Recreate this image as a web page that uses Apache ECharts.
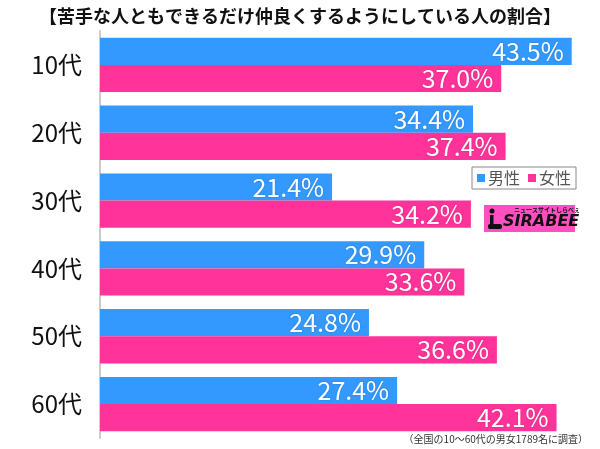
<!DOCTYPE html>
<html><head><meta charset="utf-8">
<script src="https://cdn.jsdelivr.net/npm/echarts@6/dist/echarts.min.js"></script>
<style>html,body{margin:0;padding:0;background:#fff}#c{width:600px;height:449px}</style>
</head><body><div id="c"></div>
<script>
const categories = ['10代','20代','30代','40代','50代','60代'];
const male = [43.5, 34.4, 21.4, 29.9, 24.8, 27.4];
const female = [37.0, 37.4, 34.2, 33.6, 36.6, 42.1];
const seriesNames = ['男性','女性'];
const titleText = '【苦手な人ともできるだけ仲良くするようにしている人の割合】';
const noteText = '（全国の10〜60代の男女1789名に調査）';
const FONT = '"Noto Sans CJK JP", "Noto Sans", sans-serif';

const chart = echarts.init(document.getElementById('c'), null, {renderer:'canvas'});
const lbl = {
  show: true, position: 'insideRight', distance: 8,
  formatter: p => p.value.toFixed(1) + '%',
  color: '#fff', fontSize: 25, fontFamily: FONT,
  textShadowColor: 'rgba(0,0,0,0.2)', textShadowBlur: 2
};
chart.setOption({
  animation: false,
  title: { text: titleText, left: 'center', top: 2,
    textStyle: { fontSize: 18, fontWeight: 'bold', color: '#111', fontFamily: FONT } },
  legend: {
    data: seriesNames, left: 472, top: 167, icon: 'rect', itemWidth: 8, itemHeight: 8, itemGap: 8,
    borderColor: '#888', borderWidth: 1, padding: [3, 5, 3, 5], borderRadius: 0,
    textStyle: { fontSize: 16, color: '#555', fontFamily: FONT, padding: [0,0,0,-2] }
  },
  grid: { left: 100, top: 31, width: 488, height: 407, containLabel: false },
  xAxis: { type: 'value', min: 0, max: 45, show: false },
  yAxis: { type: 'category', data: categories, inverse: true,
    axisLine: { show: true, lineStyle: { color: '#ccc', width: 2 } },
    axisTick: { show: false },
    axisLabel: { fontSize: 24, color: '#111', margin: 18, fontFamily: FONT } },
  series: [
    { name: seriesNames[0], type: 'bar', data: male, barGap: '0%', barCategoryGap: '20%',
      itemStyle: { color: '#3399ff' }, label: lbl },
    { name: seriesNames[1], type: 'bar', data: female,
      itemStyle: { color: '#ff3399' }, label: lbl }
  ],
  graphic: [
    { type: 'text', right: 12, top: 434,
      style: { text: noteText, fill: '#333', font: '10px ' + FONT } },
    { type: 'group', left: 484, top: 205, children: [
      { type: 'rect', shape: { x: 0, y: 0, width: 91, height: 27 }, style: { fill: '#ff4fc0' } },
      { type: 'text', x: 30, y: 2, style: { text: 'ニュースサイトしらべぇ', font: 'bold 6px ' + FONT, fill: '#111' } },
      { type: 'circle', shape: { cx: 8, cy: 6, r: 2.5 }, style: { fill: '#111' } },
      { type: 'rect', shape: { x: 4, y: 19, width: 14, height: 5, r: 2 }, style: { fill: '#111' } },
      { type: 'rect', shape: { x: 6, y: 10, width: 3.5, height: 12 }, style: { fill: '#111' } },
      { type: 'text', x: 19, y: 9, style: { text: 'SIRABEE', font: 'bold italic 16px "DejaVu Sans"', fill: '#111' } }
    ]}
  ]
});
</script></body></html>
